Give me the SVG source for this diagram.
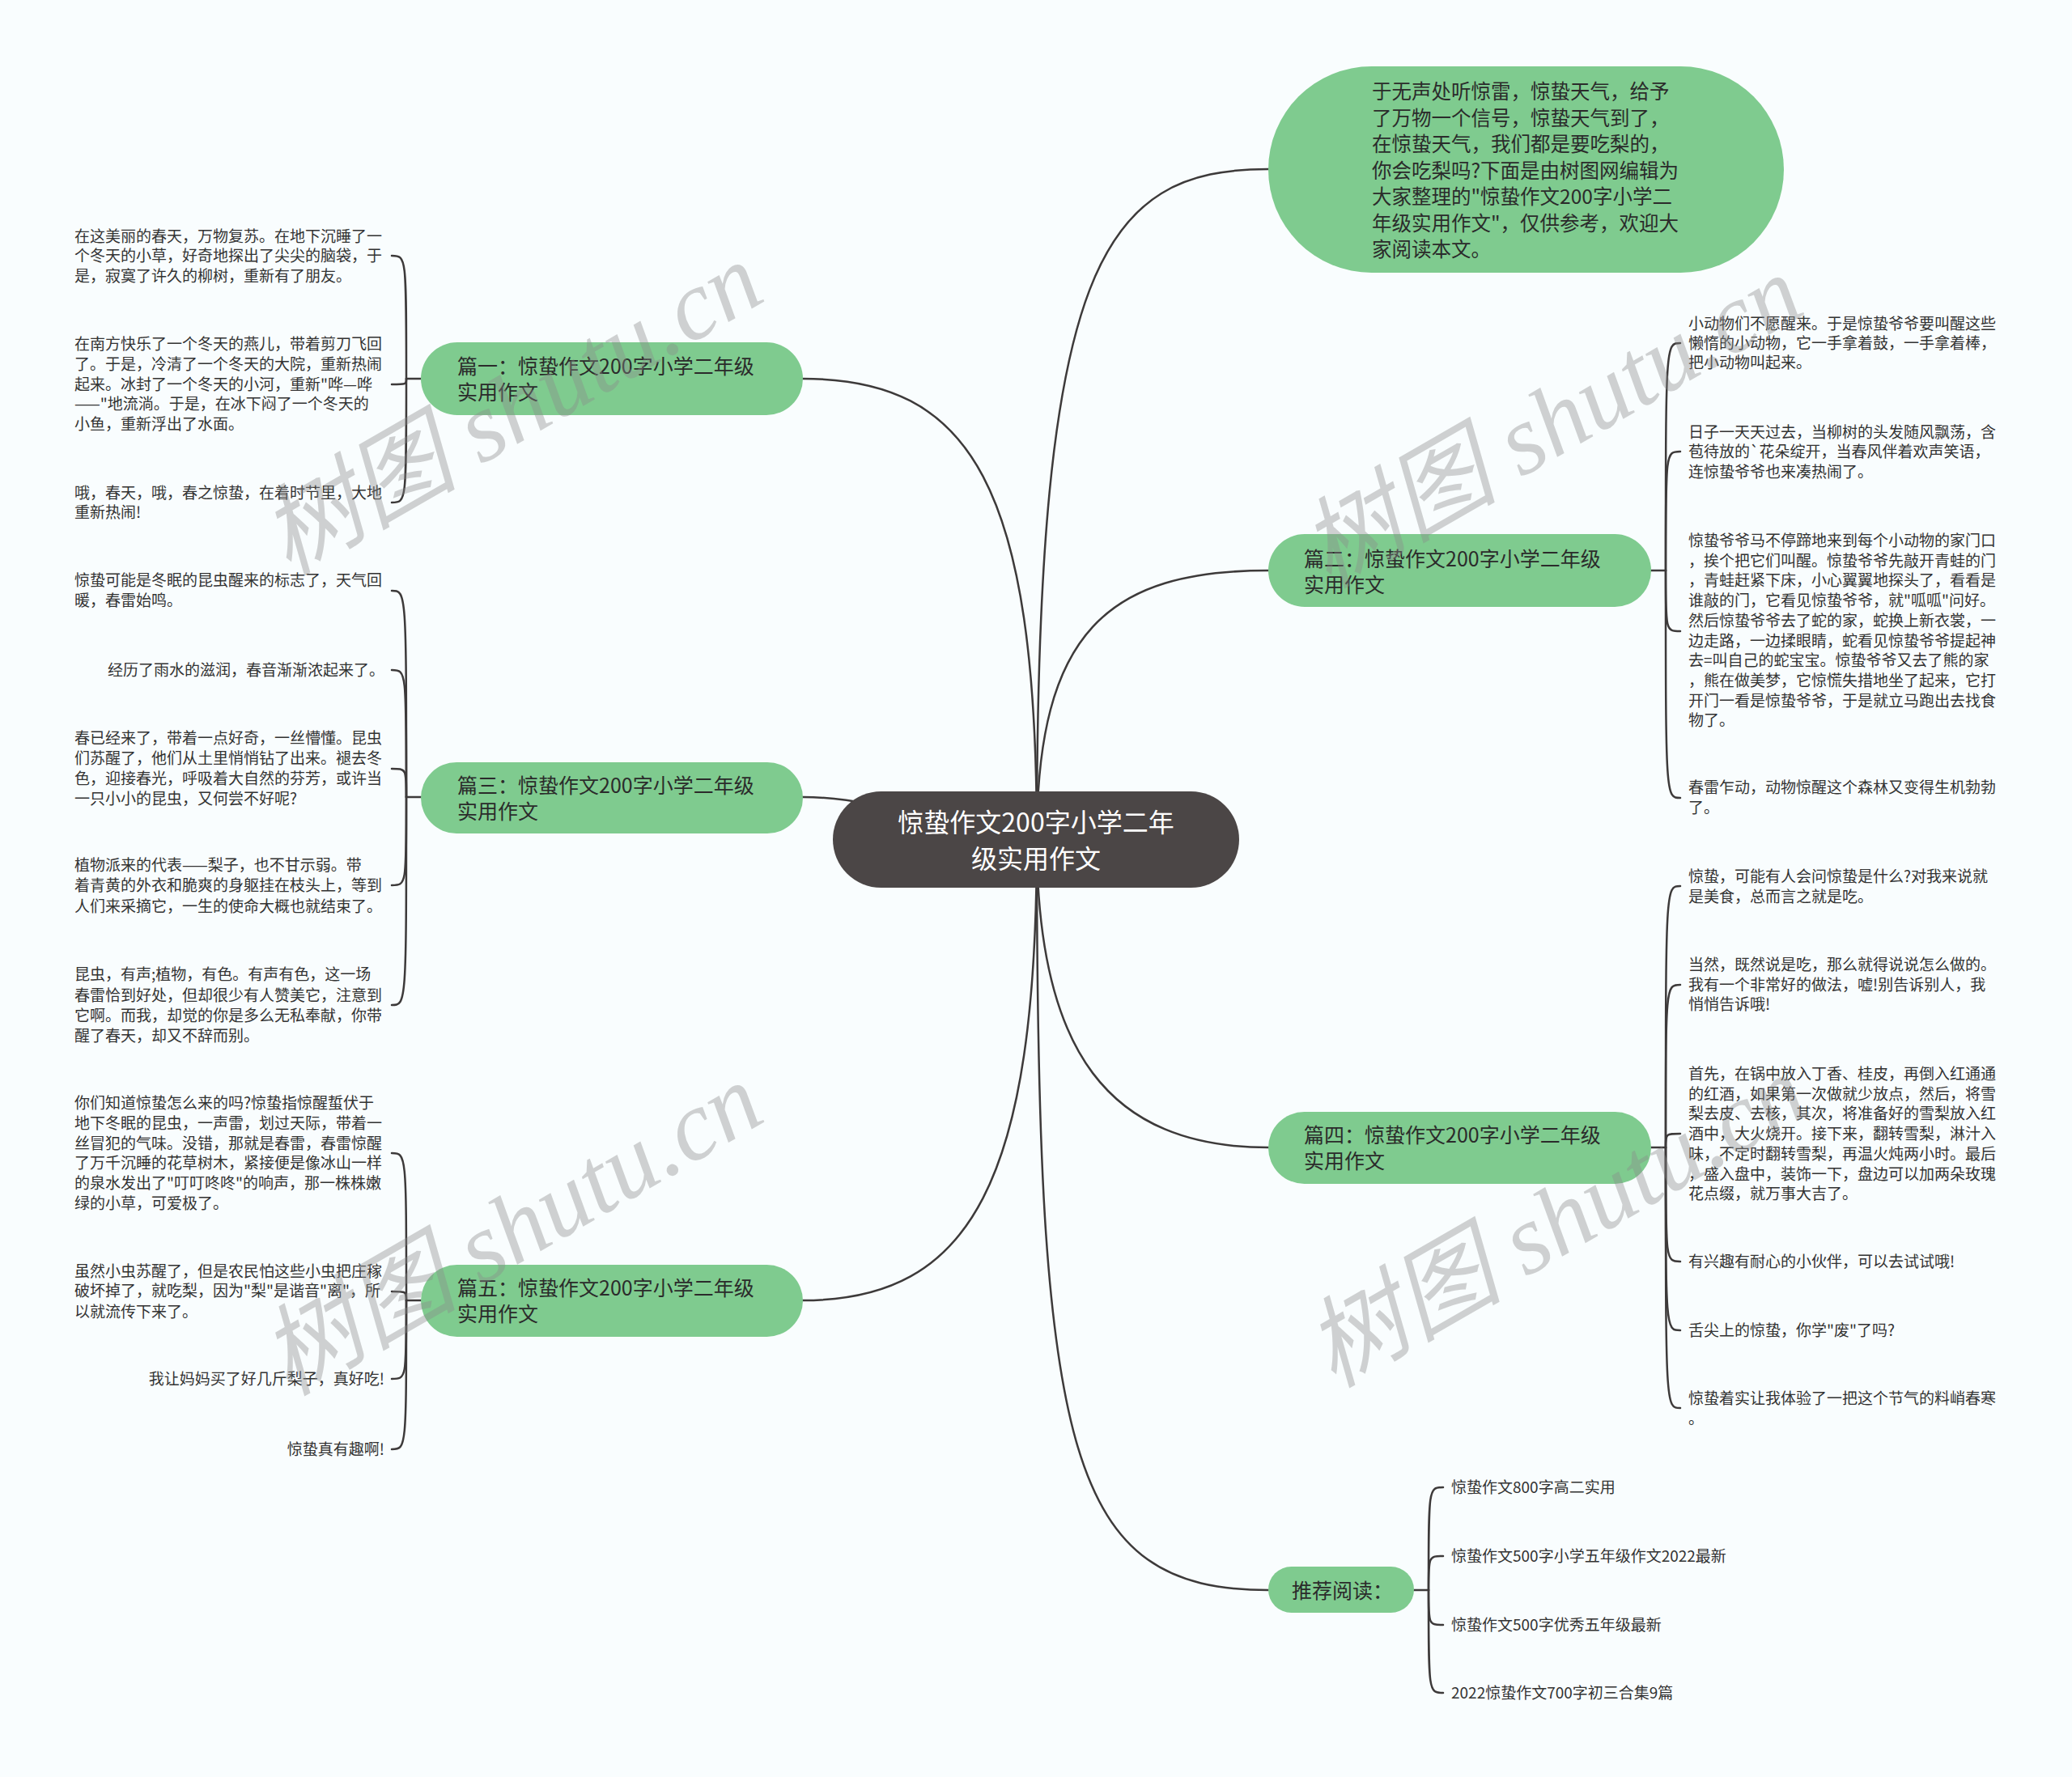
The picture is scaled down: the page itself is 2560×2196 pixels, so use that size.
<svg xmlns="http://www.w3.org/2000/svg" width="2560" height="2196" viewBox="0 0 2560 2196">
<style>
.bg{fill:#f9fdfe}
.conn{fill:none;stroke:#3d3a3a;stroke-width:2.5;stroke-linecap:round}
.pill{fill:#7fcb8f}
.core{fill:#4b4646}
.t{font-family:"Noto Sans CJK SC","Noto Sans",sans-serif}
.leaf{font-size:19px;fill:#333333}
.l1{font-size:25px;fill:#2b2b2b}
.ct{font-size:32px;fill:#ffffff}
.wm{font-family:"Liberation Serif","Noto Sans CJK SC",serif;font-style:italic;font-size:122px;fill:#8a8a8a;opacity:0.38}
</style>
<rect class="bg" x="0" y="0" width="2560" height="2196"/>

<g id="connectors">
  <path class="conn" d="M1281,1037 C1281,330 1360,209 1567,209"/>
  <path class="conn" d="M1281,1037 C1281,780 1370,705 1567,705"/>
  <path class="conn" d="M1281,1037 C1281,1300 1370,1418 1567,1418"/>
  <path class="conn" d="M1281,1037 C1281,1800 1320,1965 1567,1965"/>
  <path class="conn" d="M1281,1037 C1281,600 1200,468 992,468"/>
  <path class="conn" d="M1281,1037 C1200,1037 1100,985 992,985"/>
  <path class="conn" d="M1281,1037 C1281,1460 1200,1607 992,1607"/>
  <!-- 篇一 bracket -->
  <path class="conn" d="M520,468 H502"/>
  <path class="conn" d="M502,468 C502,316 502,316 484,316"/>
  <path class="conn" d="M502,468 C502,475 502,475 484,475"/>
  <path class="conn" d="M502,468 C502,621 502,621 484,621"/>
  <!-- 篇三 bracket -->
  <path class="conn" d="M520,985 H502"/>
  <path class="conn" d="M502,985 C502,730 502,730 484,730"/>
  <path class="conn" d="M502,985 C502,828 502,828 484,828"/>
  <path class="conn" d="M502,985 C502,950 502,950 484,950"/>
  <path class="conn" d="M502,985 C502,1094 502,1094 484,1094"/>
  <path class="conn" d="M502,985 C502,1242 502,1242 484,1242"/>
  <!-- 篇五 bracket -->
  <path class="conn" d="M520,1607 H502"/>
  <path class="conn" d="M502,1607 C502,1425 502,1425 484,1425"/>
  <path class="conn" d="M502,1607 C502,1596 502,1596 484,1596"/>
  <path class="conn" d="M502,1607 C502,1704 502,1704 484,1704"/>
  <path class="conn" d="M502,1607 C502,1791 502,1791 484,1791"/>
  <!-- 篇二 bracket -->
  <path class="conn" d="M2040,705 H2058"/>
  <path class="conn" d="M2058,705 C2058,424 2058,424 2076,424"/>
  <path class="conn" d="M2058,705 C2058,558 2058,558 2076,558"/>
  <path class="conn" d="M2058,705 C2058,780 2058,780 2076,780"/>
  <path class="conn" d="M2058,705 C2058,986 2058,986 2076,986"/>
  <!-- 篇四 bracket -->
  <path class="conn" d="M2040,1418 H2058"/>
  <path class="conn" d="M2058,1418 C2058,1095 2058,1095 2076,1095"/>
  <path class="conn" d="M2058,1418 C2058,1217 2058,1217 2076,1217"/>
  <path class="conn" d="M2058,1418 C2058,1401 2058,1401 2076,1401"/>
  <path class="conn" d="M2058,1418 C2058,1559 2058,1559 2076,1559"/>
  <path class="conn" d="M2058,1418 C2058,1644 2058,1644 2076,1644"/>
  <path class="conn" d="M2058,1418 C2058,1740 2058,1740 2076,1740"/>
  <!-- 推荐阅读 bracket -->
  <path class="conn" d="M1747,1965 H1765"/>
  <path class="conn" d="M1765,1965 C1765,1838 1765,1838 1783,1838"/>
  <path class="conn" d="M1765,1965 C1765,1923 1765,1923 1783,1923"/>
  <path class="conn" d="M1765,1965 C1765,2008 1765,2008 1783,2008"/>
  <path class="conn" d="M1765,1965 C1765,2092 1765,2092 1783,2092"/>
</g>

<g id="center">
  <rect class="core" x="1029" y="978" width="502" height="119" rx="59.5"/>
  <text class="t ct" text-anchor="middle"><tspan x="1280" y="1028">惊蛰作文200字小学二年</tspan><tspan x="1280" y="1073">级实用作文</tspan></text>
</g>

<g id="intro">
  <rect class="pill" x="1567" y="82" width="637" height="255" rx="127.5"/>
  <text class="t l1" style="font-size:24.5px"><tspan x="1695" y="122">于无声处听惊雷，惊蛰天气，给予</tspan><tspan x="1695" y="154.5">了万物一个信号，惊蛰天气到了，</tspan><tspan x="1695" y="187">在惊蛰天气，我们都是要吃梨的，</tspan><tspan x="1695" y="219.5">你会吃梨吗?下面是由树图网编辑为</tspan><tspan x="1695" y="252">大家整理的"惊蛰作文200字小学二</tspan><tspan x="1695" y="284.5">年级实用作文"，仅供参考，欢迎大</tspan><tspan x="1695" y="317">家阅读本文。</tspan></text>
</g>

<g id="p1">
  <rect class="pill" x="520" y="423" width="472" height="90" rx="45"/>
  <text class="t l1"><tspan x="565" y="461.5">篇一：惊蛰作文200字小学二年级</tspan><tspan x="565" y="493.5">实用作文</tspan></text>
</g>
<g id="p1-leaf1"><text class="t leaf"><tspan x="92" y="299">在这美丽的春天，万物复苏。在地下沉睡了一</tspan><tspan x="92" y="323">个冬天的小草，好奇地探出了尖尖的脑袋，于</tspan><tspan x="92" y="348">是，寂寞了许久的柳树，重新有了朋友。</tspan></text></g>
<g id="p1-leaf2"><text class="t leaf"><tspan x="92" y="432">在南方快乐了一个冬天的燕儿，带着剪刀飞回</tspan><tspan x="92" y="457">了。于是，冷清了一个冬天的大院，重新热闹</tspan><tspan x="92" y="482">起来。冰封了一个冬天的小河，重新"哗—哗</tspan><tspan x="92" y="506">——"地流淌。于是，在冰下闷了一个冬天的</tspan><tspan x="92" y="531">小鱼，重新浮出了水面。</tspan></text></g>
<g id="p1-leaf3"><text class="t leaf"><tspan x="92" y="616">哦，春天，哦，春之惊蛰，在着时节里，大地</tspan><tspan x="92" y="640">重新热闹!</tspan></text></g>

<g id="p3">
  <rect class="pill" x="520" y="942" width="472" height="88" rx="44"/>
  <text class="t l1"><tspan x="565" y="979.5">篇三：惊蛰作文200字小学二年级</tspan><tspan x="565" y="1011.5">实用作文</tspan></text>
</g>
<g id="p3-leaf1"><text class="t leaf"><tspan x="92" y="724">惊蛰可能是冬眠的昆虫醒来的标志了，天气回</tspan><tspan x="92" y="749">暖，春雷始鸣。</tspan></text></g>
<g id="p3-leaf2"><text class="t leaf" text-anchor="end"><tspan x="475" y="835">经历了雨水的滋润，春音渐渐浓起来了。</tspan></text></g>
<g id="p3-leaf3"><text class="t leaf"><tspan x="92" y="919">春已经来了，带着一点好奇，一丝懵懂。昆虫</tspan><tspan x="92" y="944">们苏醒了，他们从土里悄悄钻了出来。褪去冬</tspan><tspan x="92" y="969">色，迎接春光，呼吸着大自然的芬芳，或许当</tspan><tspan x="92" y="994">一只小小的昆虫，又何尝不好呢?</tspan></text></g>
<g id="p3-leaf4"><text class="t leaf"><tspan x="92" y="1076">植物派来的代表——梨子，也不甘示弱。带</tspan><tspan x="92" y="1101">着青黄的外衣和脆爽的身躯挂在枝头上，等到</tspan><tspan x="92" y="1127">人们来采摘它，一生的使命大概也就结束了。</tspan></text></g>
<g id="p3-leaf5"><text class="t leaf"><tspan x="92" y="1211">昆虫，有声;植物，有色。有声有色，这一场</tspan><tspan x="92" y="1237">春雷恰到好处，但却很少有人赞美它，注意到</tspan><tspan x="92" y="1262">它啊。而我，却觉的你是多么无私奉献，你带</tspan><tspan x="92" y="1287">醒了春天，却又不辞而别。</tspan></text></g>

<g id="p5">
  <rect class="pill" x="520" y="1563" width="472" height="89" rx="44.5"/>
  <text class="t l1"><tspan x="565" y="1600.5">篇五：惊蛰作文200字小学二年级</tspan><tspan x="565" y="1632.5">实用作文</tspan></text>
</g>
<g id="p5-leaf1"><text class="t leaf"><tspan x="92" y="1370">你们知道惊蛰怎么来的吗?惊蛰指惊醒蜇伏于</tspan><tspan x="92" y="1394.8">地下冬眠的昆虫，一声雷，划过天际，带着一</tspan><tspan x="92" y="1419.6">丝冒犯的气味。没错，那就是春雷，春雷惊醒</tspan><tspan x="92" y="1444.4">了万千沉睡的花草树木，紧接便是像冰山一样</tspan><tspan x="92" y="1469.2">的泉水发出了"叮叮咚咚"的响声，那一株株嫩</tspan><tspan x="92" y="1494">绿的小草，可爱极了。</tspan></text></g>
<g id="p5-leaf2"><text class="t leaf"><tspan x="92" y="1578">虽然小虫苏醒了，但是农民怕这些小虫把庄稼</tspan><tspan x="92" y="1602">破坏掉了，就吃梨，因为"梨"是谐音"离"，所</tspan><tspan x="92" y="1628">以就流传下来了。</tspan></text></g>
<g id="p5-leaf3"><text class="t leaf" text-anchor="end"><tspan x="475" y="1711">我让妈妈买了好几斤梨子，真好吃!</tspan></text></g>
<g id="p5-leaf4"><text class="t leaf" text-anchor="end"><tspan x="475" y="1798">惊蛰真有趣啊!</tspan></text></g>

<g id="p2">
  <rect class="pill" x="1567" y="660" width="473" height="90" rx="45"/>
  <text class="t l1"><tspan x="1611" y="699.5">篇二：惊蛰作文200字小学二年级</tspan><tspan x="1611" y="731.5">实用作文</tspan></text>
</g>
<g id="p2-leaf1"><text class="t leaf"><tspan x="2086" y="407">小动物们不愿醒来。于是惊蛰爷爷要叫醒这些</tspan><tspan x="2086" y="431">懒惰的小动物，它一手拿着鼓，一手拿着棒，</tspan><tspan x="2086" y="455">把小动物叫起来。</tspan></text></g>
<g id="p2-leaf2"><text class="t leaf"><tspan x="2086" y="541">日子一天天过去，当柳树的头发随风飘荡，含</tspan><tspan x="2086" y="565">苞待放的`花朵绽开，当春风伴着欢声笑语，</tspan><tspan x="2086" y="590">连惊蛰爷爷也来凑热闹了。</tspan></text></g>
<g id="p2-leaf3"><text class="t leaf"><tspan x="2086" y="675">惊蛰爷爷马不停蹄地来到每个小动物的家门口</tspan><tspan x="2086" y="699.7">，挨个把它们叫醒。惊蛰爷爷先敲开青蛙的门</tspan><tspan x="2086" y="724.4">，青蛙赶紧下床，小心翼翼地探头了，看看是</tspan><tspan x="2086" y="749.1">谁敲的门，它看见惊蛰爷爷，就"呱呱"问好。</tspan><tspan x="2086" y="773.8">然后惊蛰爷爷去了蛇的家，蛇换上新衣裳，一</tspan><tspan x="2086" y="798.5">边走路，一边揉眼睛，蛇看见惊蛰爷爷提起神</tspan><tspan x="2086" y="823.2">去=叫自己的蛇宝宝。惊蛰爷爷又去了熊的家</tspan><tspan x="2086" y="847.9">，熊在做美梦，它惊慌失措地坐了起来，它打</tspan><tspan x="2086" y="872.6">开门一看是惊蛰爷爷，于是就立马跑出去找食</tspan><tspan x="2086" y="897.3">物了。</tspan></text></g>
<g id="p2-leaf4"><text class="t leaf"><tspan x="2086" y="980">春雷乍动，动物惊醒这个森林又变得生机勃勃</tspan><tspan x="2086" y="1005">了。</tspan></text></g>

<g id="p4">
  <rect class="pill" x="1567" y="1374" width="473" height="89" rx="44.5"/>
  <text class="t l1"><tspan x="1611" y="1411.5">篇四：惊蛰作文200字小学二年级</tspan><tspan x="1611" y="1443.5">实用作文</tspan></text>
</g>
<g id="p4-leaf1"><text class="t leaf"><tspan x="2086" y="1090">惊蛰，可能有人会问惊蛰是什么?对我来说就</tspan><tspan x="2086" y="1115">是美食，总而言之就是吃。</tspan></text></g>
<g id="p4-leaf2"><text class="t leaf"><tspan x="2086" y="1199">当然，既然说是吃，那么就得说说怎么做的。</tspan><tspan x="2086" y="1224">我有一个非常好的做法，嘘!别告诉别人，我</tspan><tspan x="2086" y="1248">悄悄告诉哦!</tspan></text></g>
<g id="p4-leaf3"><text class="t leaf"><tspan x="2086" y="1334">首先，在锅中放入丁香、桂皮，再倒入红通通</tspan><tspan x="2086" y="1358.7">的红酒，如果第一次做就少放点，然后，将雪</tspan><tspan x="2086" y="1383.4">梨去皮、去核，其次，将准备好的雪梨放入红</tspan><tspan x="2086" y="1408.1">酒中，大火烧开。接下来，翻转雪梨，淋汁入</tspan><tspan x="2086" y="1432.8">味，不定时翻转雪梨，再温火炖两小时。最后</tspan><tspan x="2086" y="1457.5">，盛入盘中，装饰一下，盘边可以加两朵玫瑰</tspan><tspan x="2086" y="1482.2">花点缀，就万事大吉了。</tspan></text></g>
<g id="p4-leaf4"><text class="t leaf"><tspan x="2086" y="1566">有兴趣有耐心的小伙伴，可以去试试哦!</tspan></text></g>
<g id="p4-leaf5"><text class="t leaf"><tspan x="2086" y="1651">舌尖上的惊蛰，你学"废"了吗?</tspan></text></g>
<g id="p4-leaf6"><text class="t leaf"><tspan x="2086" y="1735">惊蛰着实让我体验了一把这个节气的料峭春寒</tspan><tspan x="2086" y="1760">。</tspan></text></g>

<g id="rec">
  <rect class="pill" x="1567" y="1936" width="180" height="57" rx="28.5"/>
  <text class="t l1" x="1596" y="1974.5">推荐阅读：</text>
</g>
<g id="rec-1"><text class="t leaf" x="1793" y="1845">惊蛰作文800字高二实用</text></g>
<g id="rec-2"><text class="t leaf" x="1793" y="1930">惊蛰作文500字小学五年级作文2022最新</text></g>
<g id="rec-3"><text class="t leaf" x="1793" y="2015">惊蛰作文500字优秀五年级最新</text></g>
<g id="rec-4"><text class="t leaf" x="1793" y="2099">2022惊蛰作文700字初三合集9篇</text></g>

<g id="watermarks">
  <text class="wm" text-anchor="middle" dominant-baseline="central" transform="translate(632,505) rotate(-30)">树图 shutu.cn</text>
  <text class="wm" text-anchor="middle" dominant-baseline="central" transform="translate(1917,521) rotate(-30)">树图 shutu.cn</text>
  <text class="wm" text-anchor="middle" dominant-baseline="central" transform="translate(632,1519) rotate(-30)">树图 shutu.cn</text>
  <text class="wm" text-anchor="middle" dominant-baseline="central" transform="translate(1923,1509) rotate(-30)">树图 shutu.cn</text>
</g>
</svg>
